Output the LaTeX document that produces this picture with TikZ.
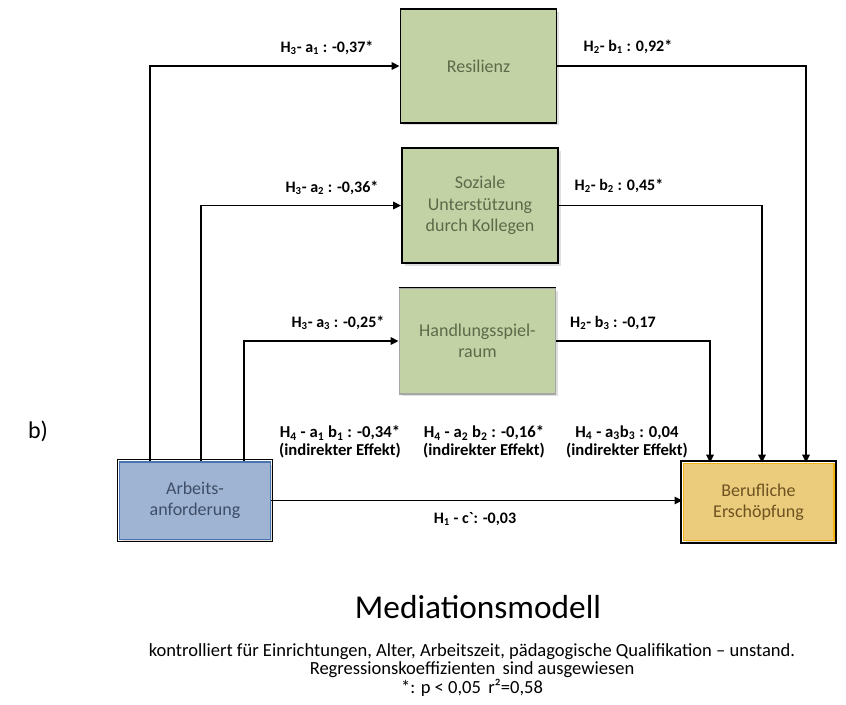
\documentclass[tikz,border=0pt]{standalone}
\usepackage{fontspec}
\setmainfont{Carlito}
\usetikzlibrary{arrows.meta,positioning,shadows}
\definecolor{medgreen}{HTML}{C3D2A5}
\definecolor{medtext}{HTML}{5D6A4A}
\definecolor{demblue}{HTML}{9FB4D2}
\definecolor{demtext}{HTML}{3F4E68}
\definecolor{demline}{HTML}{4A74B0}
\definecolor{outgold}{HTML}{EBCB7C}
\definecolor{outtext}{HTML}{6E5320}
\definecolor{outline}{HTML}{F2B414}

\begin{document}
\begin{tikzpicture}[x=0.75pt, y=-0.75pt, every node/.style={font=\fontsize{13.5}{16}\selectfont},
  box/.style={rectangle, align=center, line width=1.3pt, draw=black,
    drop shadow={shadow xshift=2pt, shadow yshift=-2pt, opacity=0.25}},
  medbox/.style={box, fill=medgreen, text=medtext, minimum width=117pt},
  endbox/.style={box, line width=1pt, minimum width=113pt, minimum height=58pt},
  frame/.style={line width=1.3pt},
  lbl/.style={font=\fontsize{12}{13.5}\selectfont\bfseries, align=center},
  indlbl/.style={lbl, font=\fontsize{12.5}{13.5}\selectfont\bfseries},
  arr/.style={-{Triangle[length=6pt, width=5.5pt]}, line width=1.4pt},
]
\useasboundingbox (0,0) rectangle (846,704);

% Mediatoren
\node[medbox, minimum height=85pt] (res) at (478.5,66) {Resilienz};
\node[medbox, minimum height=86pt] (soz) at (480,205.5) {Soziale\\Unterstützung\\durch Kollegen};
\node[medbox, minimum height=79pt, draw=black!35] (hsp) at (477.5,341) {Handlungsspiel-\\raum};
\draw[frame] (hsp.north west) -- (hsp.north east);

% Prädiktor und Outcome
\node[endbox, fill=demblue, text=demtext, draw=demline] (arb) at (195,500.5) {Arbeits-\\anforderung};
\node[endbox, fill=outgold, text=outtext, draw=outline] (ber) at (758.5,502) {Berufliche\\Erschöpfung};
\draw[frame] ([xshift=-1.2pt,yshift=1.2pt]arb.north west) rectangle ([xshift=1.2pt,yshift=-1.2pt]arb.south east);
\draw[frame] ([xshift=-1.2pt,yshift=1.2pt]ber.north west) rectangle ([xshift=1.2pt,yshift=-1.2pt]ber.south east);

% Abzweigpunkte
\coordinate (ax1) at (150,0);
\coordinate (ax2) at (201,0);
\coordinate (ax3) at (244,0);
\coordinate (bx1) at (806,0);
\coordinate (bx2) at (762,0);
\coordinate (bx3) at (710,0);

% Pfade a
\draw[arr] (arb.north -| ax1) |- (res.west);
\draw[arr] (arb.north -| ax2) |- (soz.west);
\draw[arr] (arb.north -| ax3) |- (hsp.west);

% Pfade b
\draw[arr] (res.east) -| (ber.north -| bx1);
\draw[arr] (soz.east) -| (ber.north -| bx2);
\draw[arr] (hsp.east) -| (ber.north -| bx3);

% direkter Effekt
\draw[arr] (arb.east) -- (arb.east -| ber.west);

% Koeffizienten
\node[lbl] (la1) at (327,48) {H\textsubscript{3}- a\textsubscript{1} : -0,37*};
\node[lbl] (la2) at (332,188) {H\textsubscript{3}- a\textsubscript{2} : -0,36*};
\node[lbl] (la3) at (338,323) {H\textsubscript{3}- a\textsubscript{3} : -0,25*};
\node[lbl] (lb1) at (628,47) {H\textsubscript{2}- b\textsubscript{1} : 0,92*};
\node[lbl] (lb2) at (619,186) {H\textsubscript{2}- b\textsubscript{2} : 0,45*};
\node[lbl] (lb3) at (613,323) {H\textsubscript{2}- b\textsubscript{3} : -0,17};
\node[indlbl] (ind1) at (340,442) {H\textsubscript{4} - a\textsubscript{1} b\textsubscript{1} : -0,34*\\(indirekter Effekt)};
\node[indlbl] (ind2) at (484,442) {H\textsubscript{4} - a\textsubscript{2} b\textsubscript{2} : -0,16*\\(indirekter Effekt)};
\node[indlbl] (ind3) at (627,442) {H\textsubscript{4} - a\textsubscript{3}b\textsubscript{3} : 0,04\\(indirekter Effekt)};
\node[lbl] (lc) at (475,519) {H\textsubscript{1} - c\textasciigrave : -0,03};

\node[font=\fontsize{18}{21}\selectfont] (tag) at (38,431) {b)};

% Titel und Legende
\node[font=\fontsize{25}{29}\selectfont] (title) at (478,607) {Mediationsmodell};
\node[align=center, font=\fontsize{13.9}{13.6}\selectfont] (note) at (472,670)
  {kontrolliert für Einrichtungen, Alter, Arbeitszeit, pädagogische Qualifikation -- unstand.\\
   Regressionskoeffizienten\, sind ausgewiesen\\
   *: p < 0,05\, r²=0,58};

\end{tikzpicture}
\end{document}
